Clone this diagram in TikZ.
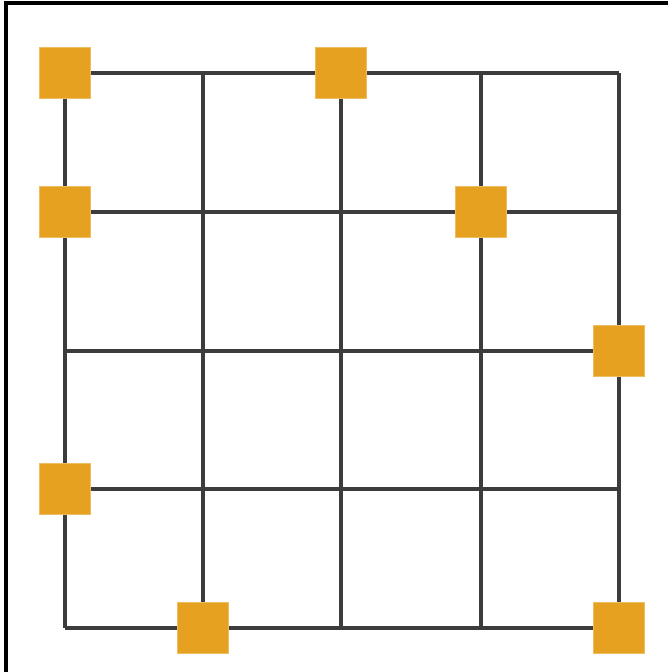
\documentclass[tikz,border=0pt]{standalone}
\usepackage{tikz}
\usetikzlibrary{positioning}

\definecolor{gridgray}{HTML}{3C3C3C}
\definecolor{pinorange}{HTML}{E5A11F}

\begin{document}
\begin{tikzpicture}[
    x=0.02cm, y=-0.02cm,
    wire/.style={draw=gridgray, line width=2.2pt},
    pin/.style={rectangle, fill=pinorange, draw=pinorange!70!white, line width=0.6pt,
                minimum size=1.02cm, inner sep=0pt},
]
\useasboundingbox (0,0) rectangle (668,672);

% --- Frame (top and left edges) ---
\draw[line width=2.4pt] (6,672) -- (6,3) -- (668,3);

% --- Grid ---
\foreach \x in {65,203,341,481,619} {
    \draw[wire] (\x,73) -- (\x,628);
}
\foreach \y in {73,212,351,489,628} {
    \draw[wire] (65,\y) -- (619,\y);
}

% --- Pins ---
\node[pin] (p1) at (65,73) {};
\node[pin] (p2) at (341,73) {};
\node[pin] (p3) at (65,212) {};
\node[pin] (p4) at (481,212) {};
\node[pin] (p5) at (619,351) {};
\node[pin] (p6) at (65,489) {};
\node[pin] (p7) at (203,628) {};
\node[pin] (p8) at (619,628) {};

\end{tikzpicture}
\end{document}
